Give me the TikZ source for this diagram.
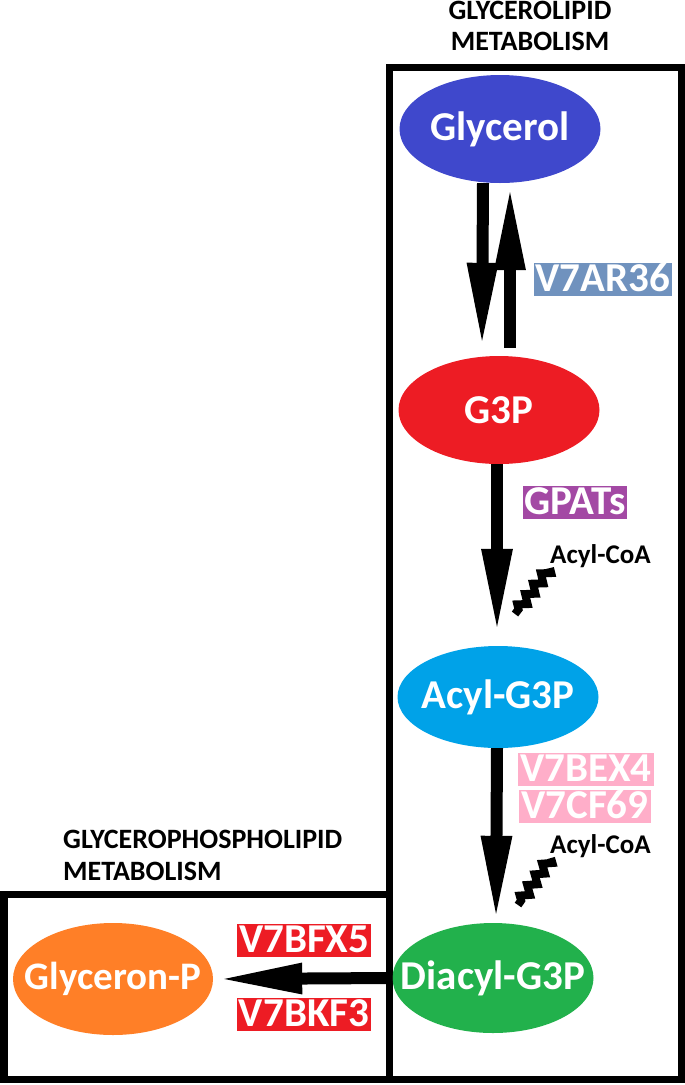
\documentclass[tikz,border=0pt]{standalone}
\usepackage{fontspec}
\setmainfont{Carlito}
\usetikzlibrary{shapes.geometric,arrows.meta,decorations.pathmorphing}
\definecolor{cglyc}{HTML}{3F48CC}
\definecolor{cred}{HTML}{ED1C24}
\definecolor{cturq}{HTML}{00A2E8}
\definecolor{cgreen}{HTML}{22B14C}
\definecolor{corange}{HTML}{FF7F27}
\definecolor{cbgray}{HTML}{7092BE}
\definecolor{cpurple}{HTML}{A349A4}
\definecolor{crose}{HTML}{FFAEC9}
\begin{document}
\begin{tikzpicture}[x=1pt,y=-1pt,
  met/.style={ellipse, fill=#1, inner xsep=-40pt, inner ysep=-10pt, text=white,
    font=\fontsize{41}{44}\selectfont\bfseries,
    minimum width=201pt, minimum height=108pt},
  enz/.style={fill=#1, text=white, font=\fontsize{41}{44}\selectfont\bfseries,
    inner xsep=2pt, inner ysep=2pt, text height=27pt, text depth=2pt},
  hd/.style={font=\fontsize{28}{31}\selectfont\bfseries, inner sep=0pt},
  cofac/.style={font=\fontsize{27}{29}\selectfont\bfseries, inner sep=0pt},
  flux/.style={line width=12pt, -{Triangle[length=85pt,width=28pt]}},
  jag/.style={line width=8pt, decorate,
    decoration={zigzag, segment length=13pt, amplitude=4pt}},
  frame/.style={line width=7pt}
]
\useasboundingbox (0,0) rectangle (685,1085);

% frames
\draw[frame] (389,67) rectangle (681,1079);
\draw[frame] (4,894) rectangle (389,1079);

% headings
\node[hd, anchor=base] (h1a) at (530,19) {GLYCEROLIPID};
\node[hd, anchor=base] (h1b) at (530,50) {METABOLISM};
\node[hd, anchor=base west] (h2a) at (63,848) {GLYCEROPHOSPHOLIPID};
\node[hd, anchor=base west] (h2b) at (63,880) {METABOLISM};

% metabolites
\node[met=cglyc] (gly) at (500,129) {Glycerol};
\node[met=cred] (g3p) at (499,410) {G3P};
\node[met=cturq, minimum height=102pt] (acy) at (498,697) {Acyl-G3P};
\node[met=cgreen, minimum height=110pt] (dia) at (493,978) {Diacyl-G3P};
\node[met=corange, minimum width=200pt, minimum height=112pt] (gnp) at (113,979) {\fontsize{39}{42}\selectfont Glyceron-P};

% enzymes
\node[enz=cbgray] (e1) at (603,279) {V7AR36};
\node[enz=cpurple] (e2) at (575,502) {GPATs};
\node[enz=crose] (e3) at (586,769) {V7BEX4};
\node[enz=crose] (e4) at (585,806) {V7CF69};
\node[enz=cred] (e5) at (304,940) {V7BFX5};
\node[enz=cred] (e6) at (304,1014) {V7BKF3};

% cofactors
\node[cofac, anchor=base west] (c1) at (550,563) {Acyl-CoA};
\node[cofac, anchor=base west] (c2) at (550,853) {Acyl-CoA};

% flux arrows
\draw[flux] ([xshift=-17pt]gly.south) -- ([xshift=-17pt,yshift=8pt]g3p.north);
\draw[flux] ([xshift=11pt,yshift=8pt]g3p.north) -- ([xshift=10pt,yshift=-2pt]gly.south);
\draw[flux] ([xshift=-2pt]g3p.south) -- ([xshift=-1pt,yshift=12pt]acy.north);
\draw[flux] ([xshift=-1pt]acy.south) -- ([xshift=3pt,yshift=2pt]dia.north);
\draw[flux] (dia.west) -- ([xshift=4pt]gnp.east);

% acyl-CoA jagged pointers
\coordinate (j1a) at (550,568);
\coordinate (j1b) at (515,614);
\coordinate (j2a) at (551,858);
\coordinate (j2b) at (518,905);
\draw[jag] (j1a) -- (j1b);
\draw[jag] (j2a) -- (j2b);
\end{tikzpicture}
\end{document}
